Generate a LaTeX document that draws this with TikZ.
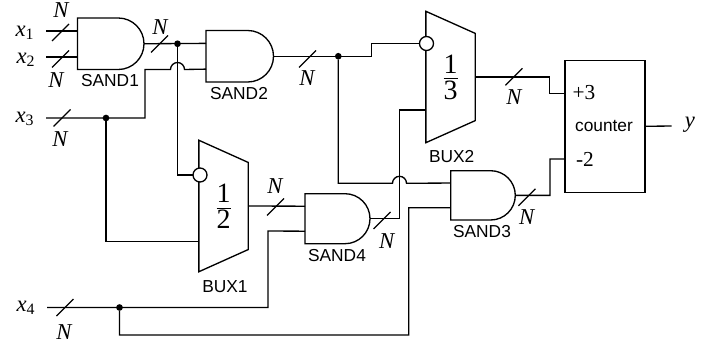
\documentclass[tikz,border=0pt]{standalone}
\usepackage{amsmath}
\usepackage{fontspec}
\setmainfont{Liberation Serif}
\newfontfamily\gatefont{Liberation Sans}
\usetikzlibrary{arrows.meta, positioning, shapes.geometric, calc}
\newcommand{\muxfrac}[2]{$\dfrac{\mbox{\fontsize{21}{21}\selectfont #1}}{\mbox{\fontsize{21}{21}\selectfont #2}}$}
% name, left, top, width, height
\newcommand{\sandgate}[5]{%
  \node[sandbox, minimum width=#4*0.75pt, minimum height=#5*0.75pt] (#1) at (#2,#3) {};
  \draw[wire] (#1.north west) -- ++(#4-#5/2,0) arc[start angle=-90, delta angle=180, radius=#5/2] -- (#1.south west) -- cycle;
  \coordinate (#1in1) at ($(#1.west)+(0,-#5/4)$);
  \coordinate (#1in2) at ($(#1.west)+(0,#5/4)$);
}

\begin{document}
\begin{tikzpicture}[
  x=0.75pt, y=-0.75pt,
  every node/.style={inner sep=0pt, outer sep=0pt},
  wire/.style={line width=1pt, line join=miter},
  sandbox/.style={rectangle, anchor=north west},
  buxbox/.style={trapezium, draw, line width=1pt, trapezium stretches=true, shape border rotate=270, trapezium left angle=56.6, trapezium right angle=56.6, minimum width=98.8pt, minimum height=37pt},
  bubble/.style={circle, draw, line width=1pt, fill=white, minimum size=10.5pt},
  junct/.style={circle, fill=black, minimum size=5pt},
  gatelabel/.style={font=\gatefont\fontsize{13}{13}\selectfont},
  sigterm/.style={font=\fontsize{17}{17}\selectfont\itshape},
  buslabel/.style={font=\fontsize{17}{17}\selectfont\itshape},
  countbox/.style={rectangle, draw, line width=1pt, minimum width=60.2pt, minimum height=99pt},
]
\useasboundingbox (0,0) rectangle (722,346);

% gates
\sandgate{sand1}{77.5}{18}{66.5}{51.5}
\sandgate{sand2}{206}{30.5}{67.5}{51.5}
\sandgate{sand4}{305}{193.7}{65}{50}
\sandgate{sand3}{450.7}{170.7}{64.6}{49.3}
\node[buxbox] (bux1) at (223.5,206) {\muxfrac{1}{2}};
\node[buxbox] (bux2) at (450.5,77) {\muxfrac{1}{3}};
\node[countbox] (cnt) at (605,126.3) {};

\node[gatelabel] (lsand1) at (110,81) {SAND1};
\node[gatelabel] (lsand2) at (239,94) {SAND2};
\node[gatelabel] (lsand3) at (482,232) {SAND3};
\node[gatelabel] (lsand4) at (337,255.7) {SAND4};
\node[gatelabel] (lbux1) at (225,287) {BUX1};
\node[gatelabel] (lbux2) at (451.7,156.7) {BUX2};
\node[font=\fontsize{16}{16}\selectfont] (plus) at (584,92.7) {+3};
\node[gatelabel] (cname) at (604,126) {counter};
\node[font=\fontsize{16}{16}\selectfont] (minus) at (585,159) {-2};

% terminals
\node[sigterm] (x1) at (25,33) {x\textsubscript{\upshape 1}};
\node[sigterm] (x2) at (26,60) {x\textsubscript{\upshape 2}};
\node[sigterm] (x3) at (25,119) {x\textsubscript{\upshape 3}};
\node[sigterm] (x4) at (26,308) {x\textsubscript{\upshape 4}};
\node[sigterm] (y) at (690,125) {y};

\coordinate (w1) at (46,31);
\coordinate (w2) at (46,57);
\coordinate (w3) at (46,118);
\coordinate (w4) at (47,307.5);
\coordinate (yend) at (671.7,126);
\coordinate (bux1low) at (199,241.5);
\coordinate (bux2low) at (426,110);
\coordinate (cntplus) at (564.7,93.7);
\coordinate (cntminus) at (564.7,159);

\node[junct] (j1) at (177.5,43.75) {};
\node[junct] (j2) at (106,118) {};
\node[junct] (j3) at (338.3,56.25) {};
\node[junct] (j4) at (119.5,307.5) {};
\node[bubble] (nb1) at (200,175) {};
\node[bubble] (nb2) at (426.5,43.5) {};

% wires
\draw[wire] (w1) -- (w1 -| sand1in1);
\draw[wire] (w2) -- (w2 -| sand1in2);
\draw[wire] (sand1.east) -- (sand2in1);
\draw[wire] (w3) -- (145,118) -- (145,69.5) -- (170.5,69.5) arc[start angle=180, delta angle=180, radius=7] -- (sand2in2);
\draw[wire] (j2) |- (bux1low);
\draw[wire] (j1) |- (nb1.west);
\draw[wire] (sand2.east) -- (371.7,56.25) -- (371.7,43.5) -- (nb2.west);
\draw[wire] (j3) -- (338.3,183.3) -- (392.5,183.3) arc[start angle=180, delta angle=180, radius=7] -- (sand3in1);
\draw[wire] (bux1.top side) -- (sand4in1);
\draw[wire] (w4) -- (268,307.5) -- (268,231) -- (sand4in2);
\draw[wire] (sand4.east) -- (399.5,218.7) -- (399.5,110) -- (bux2low);
\draw[wire] (j4) -- (119.5,335) -- (408.7,335) -- (408.7,207.7) -- (sand3in2);
\draw[wire] (bux2.top side) -- (549.3,77) -- (549.3,93.7) -- (cntplus);
\draw[wire] (sand3.east) -- (550,195.35) -- (550,159) -- (cntminus);
\draw[wire] (cnt.east) -- (yend);

% bus marks
\foreach \bx/\by/\nx/\ny [count=\i] in {60.5/32.5/61/10, 60.5/59/56/80, 62/118/60/139, 65/307.5/64/331.7,
  159.5/44/160/27, 307.5/59/307/77.7, 514/76.8/514/96.7, 275.5/207/275/186, 382/220.5/386.7/241, 527/197.3/526.7/216.7}
{
  \draw[wire] (\bx-8.5,\by+8.5) -- (\bx+8.5,\by-8.5);
  \node[buslabel] (busn\i) at (\nx,\ny) {N};
}
\end{tikzpicture}
\end{document}
